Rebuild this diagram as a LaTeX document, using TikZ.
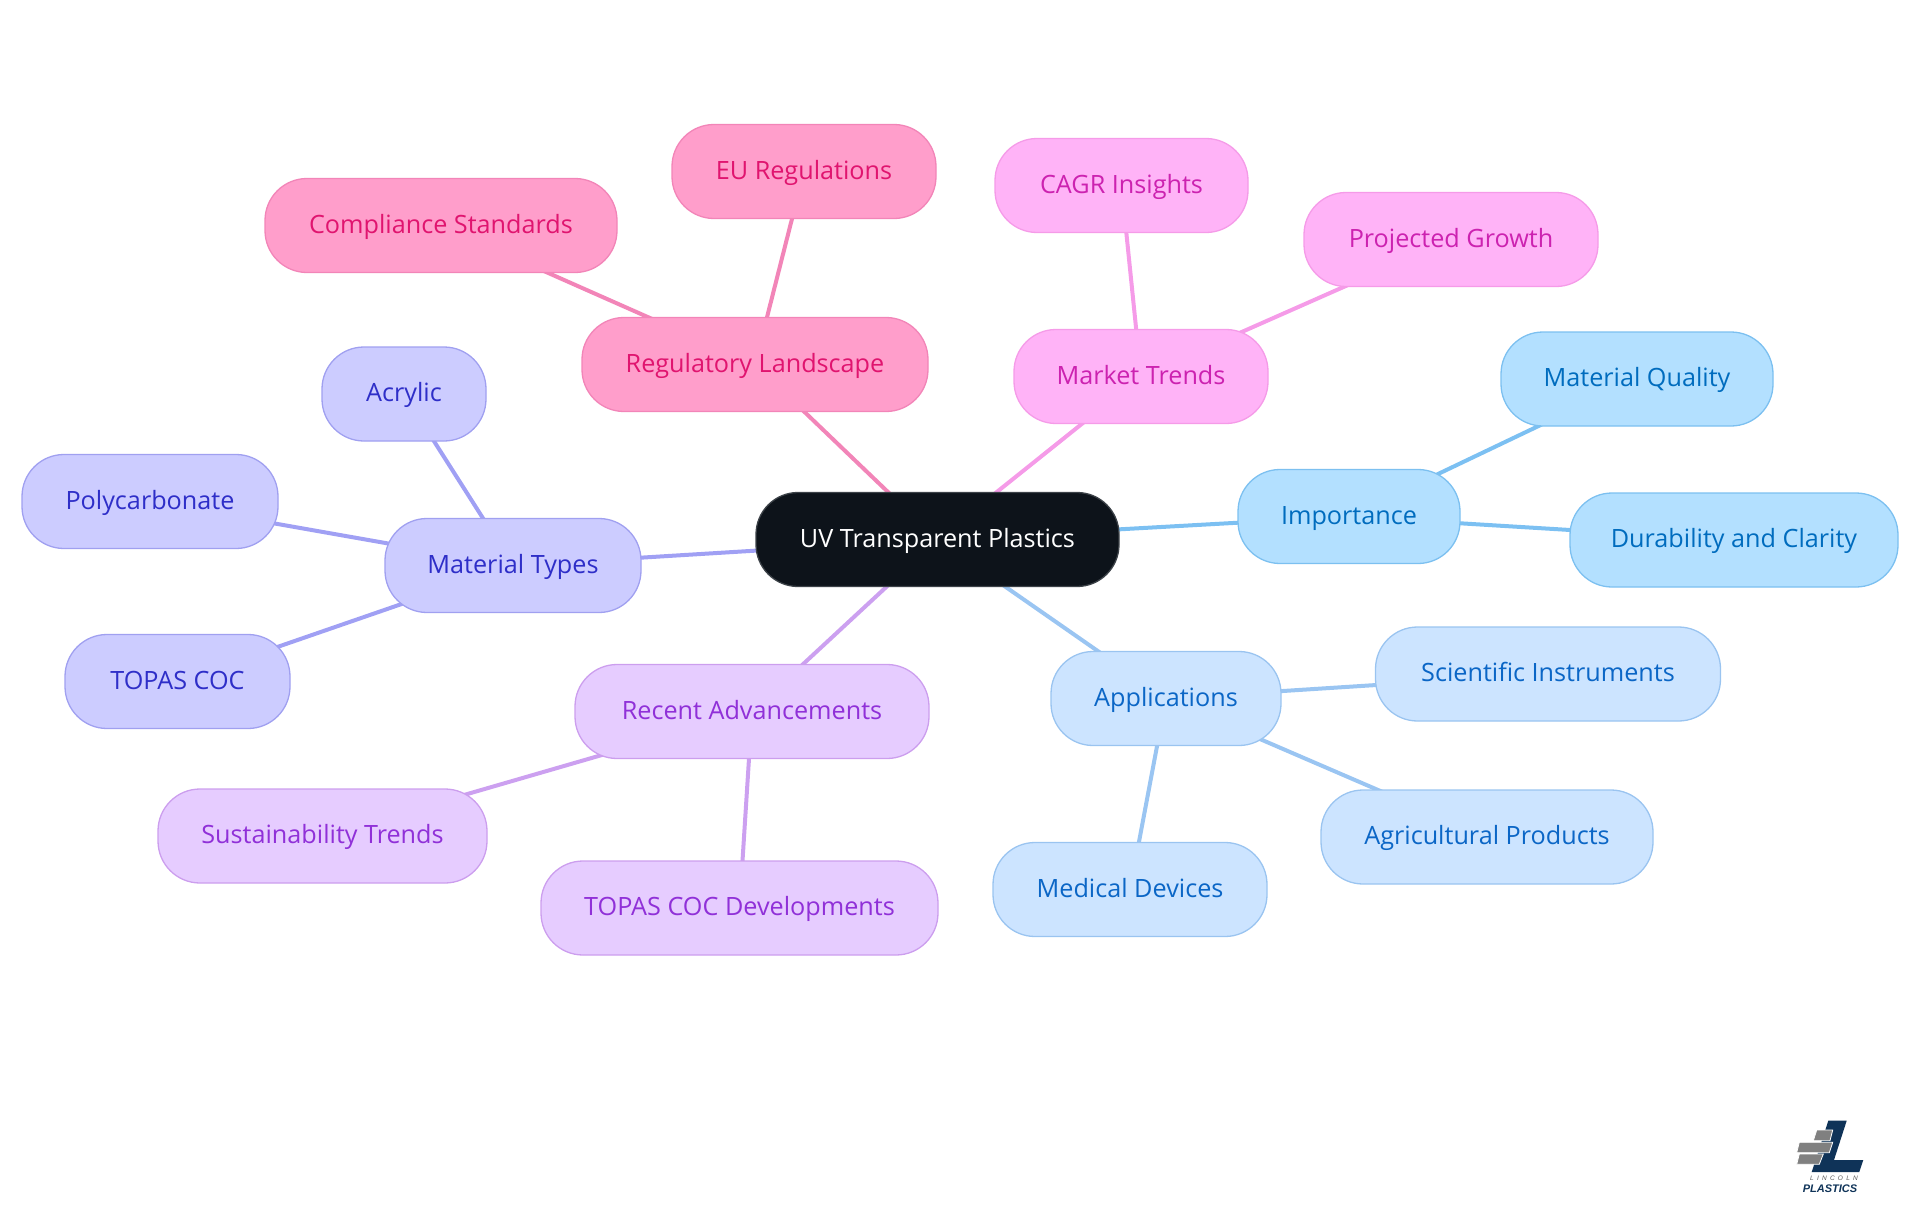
\documentclass[tikz,border=0pt]{standalone}
\usepackage{fontspec}
\setmainfont{Open Sans}
\newfontfamily\logofont{Liberation Sans}
\usetikzlibrary{backgrounds}
\definecolor{rootfill}{HTML}{0D131A}
\definecolor{rootline}{HTML}{3C4248}
\tikzset{
  mapnode/.style={rounded corners=42pt,line width=1.3pt,minimum height=94pt,outer sep=0pt,
    inner sep=0pt,text height=20pt,text depth=5pt,font=\fontsize{25.2}{30}\selectfont},
  rootnode/.style={mapnode,fill=rootfill,draw=rootline,text=white},
  impnode/.style={mapnode,fill={rgb,255:red,179;green,224;blue,255},draw={rgb,255:red,124;green,192;blue,240},text={rgb,255:red,0;green,108;blue,190}},
  appnode/.style={mapnode,fill={rgb,255:red,204;green,228;blue,255},draw={rgb,255:red,154;green,196;blue,240},text={rgb,255:red,11;green,102;blue,198}},
  recnode/.style={mapnode,fill={rgb,255:red,230;green,204;blue,255},draw={rgb,255:red,204;green,158;blue,238},text={rgb,255:red,144;green,48;blue,216}},
  matnode/.style={mapnode,fill={rgb,255:red,204;green,204;blue,255},draw={rgb,255:red,160;green,160;blue,240},text={rgb,255:red,46;green,46;blue,200}},
  regnode/.style={mapnode,fill={rgb,255:red,255;green,158;blue,203},draw={rgb,255:red,242;green,133;blue,184},text={rgb,255:red,224;green,20;blue,111}},
  marnode/.style={mapnode,fill={rgb,255:red,255;green,179;blue,247},draw={rgb,255:red,245;green,155;blue,232},text={rgb,255:red,204;green,34;blue,176}},
  impedge/.style={draw={rgb,255:red,124;green,192;blue,242},line width=4pt},
  appedge/.style={draw={rgb,255:red,154;green,197;blue,242},line width=4pt},
  recedge/.style={draw={rgb,255:red,204;green,160;blue,240},line width=4pt},
  matedge/.style={draw={rgb,255:red,160;green,160;blue,244},line width=4pt},
  regedge/.style={draw={rgb,255:red,242;green,133;blue,184},line width=4pt},
  maredge/.style={draw={rgb,255:red,245;green,155;blue,232},line width=4pt},
  logobrick/.style={fill={rgb,255:red,128;green,128;blue,128},draw=white,line width=0.8pt},
}
\begin{document}
\begin{tikzpicture}[x=1pt,y=-1pt]
  \useasboundingbox (0,0) rectangle (1920,1215);
  \node[rootnode,minimum width=363pt] (root) at (937.5,539.5) {UV Transparent Plastics};
  % importance
  \node[impnode,minimum width=222pt] (imp) at (1349,516.5) {Importance};
  \node[impnode,minimum width=272pt] (quality) at (1637,379) {Material Quality};
  \node[impnode,minimum width=328pt] (durability) at (1734,540) {Durability and Clarity};
  % applications
  \node[appnode,minimum width=230pt] (app) at (1166,698.5) {Applications};
  \node[appnode,minimum width=345pt] (scientific) at (1548,674) {Scientific Instruments};
  \node[appnode,minimum width=332pt] (agri) at (1487,837) {Agricultural Products};
  \node[appnode,minimum width=274pt] (medical) at (1130,889.5) {Medical Devices};
  % advancements
  \node[recnode,minimum width=354pt] (rec) at (752,711.5) {Recent Advancements};
  \node[recnode,minimum width=329pt] (sustain) at (322.5,836) {Sustainability Trends};
  \node[recnode,minimum width=397pt] (develop) at (739.5,908) {TOPAS COC Developments};
  % materials
  \node[matnode,minimum width=256pt] (mat) at (513,565.5) {Material Types};
  \node[matnode,minimum width=164pt] (acrylic) at (404,394) {Acrylic};
  \node[matnode,minimum width=256pt] (poly) at (150,501.5) {Polycarbonate};
  \node[matnode,minimum width=225pt] (topas) at (177.5,681.5) {TOPAS COC};
  % regulation
  \node[regnode,minimum width=346pt] (reg) at (755,364.5) {Regulatory Landscape};
  \node[regnode,minimum width=352pt] (comply) at (441,225.5) {Compliance Standards};
  \node[regnode,minimum width=264pt] (eu) at (804,171.5) {EU Regulations};
  % market
  \node[marnode,minimum width=254pt] (market) at (1141,376.5) {Market Trends};
  \node[marnode,minimum width=253pt] (cagr) at (1121.5,185.5) {CAGR Insights};
  \node[marnode,minimum width=294pt] (growth) at (1451,239.5) {Projected Growth};
  % connectors
  \begin{scope}[on background layer]
    \path (root.center) edge[impedge] (imp.center);
    \path (imp.center) edge[impedge] (quality.center);
    \path (imp.center) edge[impedge] (durability.center);
    \path (root.center) edge[appedge] (app.center);
    \path (app.center) edge[appedge] (scientific.center);
    \path (app.center) edge[appedge] (agri.center);
    \path (app.center) edge[appedge] (medical.center);
    \path (root.center) edge[recedge] (rec.center);
    \path (rec.center) edge[recedge] (sustain.center);
    \path (rec.center) edge[recedge] (develop.center);
    \path (root.center) edge[matedge] (mat.center);
    \path (mat.center) edge[matedge] (acrylic.center);
    \path (mat.center) edge[matedge] (poly.center);
    \path (mat.center) edge[matedge] (topas.center);
    \path (root.center) edge[regedge] (reg.center);
    \path (reg.center) edge[regedge] (comply.center);
    \path (reg.center) edge[regedge] (eu.center);
    \path (root.center) edge[maredge] (market.center);
    \path (market.center) edge[maredge] (cagr.center);
    \path (market.center) edge[maredge] (growth.center);
  \end{scope}
  % logo
  \fill[fill={rgb,255:red,15;green,51;blue,88}] (1828.3,1120.7) -- (1846.7,1120.7) -- (1834,1160) -- (1863.3,1160) -- (1859.3,1172) -- (1811.7,1172) -- cycle;
  \path[logobrick] (1816.7,1130) -- (1832.7,1130) -- (1830,1140.7) -- (1813.3,1140.7) -- cycle;
  \path[logobrick] (1799.3,1142.3) -- (1832.7,1142.3) -- (1829.3,1152.7) -- (1796.7,1152.7) -- cycle;
  \path[logobrick] (1799.3,1154) -- (1823.3,1154) -- (1819.3,1164.3) -- (1796.7,1164.3) -- cycle;
  \node[inner sep=0pt,text={rgb,255:red,90;green,90;blue,90},font=\logofont\itshape\fontsize{6.5}{7}\selectfont\addfontfeatures{LetterSpace=50}] (lincoln) at (1834,1178) {LINCOLN};
  \node[inner sep=0pt,text={rgb,255:red,15;green,51;blue,88},font=\logofont\bfseries\itshape\fontsize{11}{13}\selectfont] (plastics) at (1830,1188.5) {PLASTICS};
\end{tikzpicture}
\end{document}
